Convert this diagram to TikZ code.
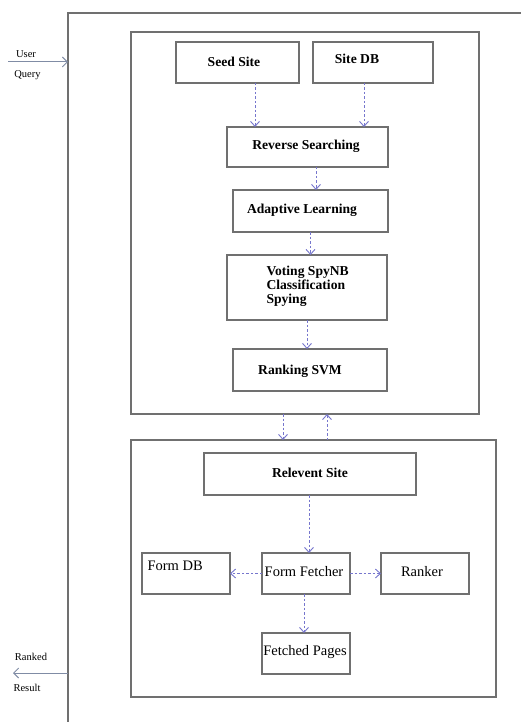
\documentclass[tikz,border=0pt]{standalone}
\usepackage{fontspec}
\setmainfont{Liberation Serif}
\usetikzlibrary{arrows.meta}
\definecolor{boxgray}{RGB}{112,112,112}
\definecolor{arrowblue}{RGB}{118,118,205}
\definecolor{iogray}{RGB}{128,140,165}
\tikzset{
  box/.style={draw=boxgray, line width=1.1pt, rectangle, inner sep=0pt, outer sep=0pt},
  frame/.style={draw=boxgray, line width=1.1pt},
  btxt/.style={font=\fontsize{13.6}{14}\selectfont\bfseries},
  rtxt/.style={font=\fontsize{14.5}{15}\selectfont},
  stxt/.style={font=\fontsize{10.5}{11}\selectfont},
  flow/.style={draw=arrowblue, line width=1pt, dash pattern=on 2.5pt off 2pt,
    -{Straight Barb[length=5pt,width=9pt,line width=0.9pt]}},
  io/.style={draw=iogray, line width=1pt, -{Straight Barb[length=5pt,width=10pt,line width=0.9pt]}}
}
\begin{document}
\begin{tikzpicture}[x=1pt,y=-1pt]
\useasboundingbox (0,0) rectangle (521,722);
% outer frame (top and left lines)
\coordinate (ftl) at (68,13);
\coordinate (ftr) at (521,13);
\coordinate (fbl) at (68,722);
\draw[frame] (ftr) -- (ftl) -- (fbl);
% containers
\node[box, minimum width=348pt, minimum height=382pt] (topbox) at (305,223) {};
\node[box, minimum width=365pt, minimum height=257pt] (botbox) at (313.5,568.5) {};
% top boxes
\node[box, btxt, minimum width=123pt, minimum height=41pt] (seed) at (237.5,62.5) {};
\node[btxt] at (234,62) {Seed Site};
\node[box, minimum width=120pt, minimum height=41pt] (sitedb) at (373,62.5) {};
\node[btxt] at (357,59) {Site DB};
\node[box, minimum width=161pt, minimum height=40pt] (rev) at (307.5,147) {};
\node[btxt] at (306,146) {Reverse Searching};
\node[box, minimum width=155pt, minimum height=42pt] (adapt) at (310.5,211) {};
\node[btxt] at (302,210) {Adaptive Learning};
\node[box, minimum width=160pt, minimum height=65pt] (vote) at (307,287.5) {};
\node[btxt, align=left, anchor=west] at (263,286) {Voting SpyNB\\Classification\\Spying};
\node[box, minimum width=154pt, minimum height=42pt] (rsvm) at (310,370) {};
\node[btxt] at (300,371) {Ranking SVM};
% bottom boxes
\node[box, minimum width=212pt, minimum height=42pt] (relev) at (310,474) {};
\node[btxt] at (310,473) {Relevent Site};
\node[box, minimum width=88pt, minimum height=41pt] (formdb) at (186,573.5) {};
\node[rtxt, anchor=west] at (144,566) {Form DB};
\node[box, minimum width=88pt, minimum height=41pt] (ff) at (306,573.5) {};
\node[rtxt] at (304,572) {Form Fetcher};
\node[box, minimum width=88pt, minimum height=41pt] (ranker) at (425,573.5) {};
\node[rtxt] at (422,572) {Ranker};
\node[box, minimum width=88pt, minimum height=41pt] (fetched) at (306,653.5) {};
\node[rtxt] at (305,652) {Fetched Pages};
% flow arrows
\draw[flow] ([xshift=17.5pt]seed.south) -- ([xshift=17.5pt]seed.south |- rev.north);
\draw[flow] ([xshift=-9pt]sitedb.south) -- ([xshift=-9pt]sitedb.south |- rev.north);
\draw[flow] ([xshift=8.5pt]rev.south) -- ([xshift=8.5pt]rev.south |- adapt.north);
\draw[flow] (adapt.south) -- (adapt.south |- vote.north);
\draw[flow] (vote.south) -- (vote.south |- rsvm.north);
\draw[flow] ([xshift=-22pt]topbox.south) -- ([xshift=-22pt]topbox.south |- botbox.north);
\draw[flow] ([xshift=22pt]topbox.south |- botbox.north) -- ([xshift=22pt]topbox.south);
\draw[flow] ([xshift=-1pt]relev.south) -- ([xshift=-1pt]relev.south |- ff.north);
\draw[flow] (ff.west) -- (formdb.east);
\draw[flow] (ff.east) -- (ranker.west);
\draw[flow] ([xshift=-2pt]ff.south) -- ([xshift=-2pt]ff.south |- fetched.north);
% input / output
\coordinate (uin) at (8,62);
\coordinate (uend) at (68,62);
\draw[io] (uin) -- (uend);
\node[stxt] (user) at (26,54) {User};
\node[stxt] (query) at (27.5,75) {Query};
\coordinate (rstart) at (68,673);
\coordinate (rend) at (13,673);
\draw[io] (rstart) -- (rend);
\node[stxt] (ranked) at (31,657) {Ranked};
\node[stxt] (result) at (27,688) {Result};
\end{tikzpicture}
\end{document}
